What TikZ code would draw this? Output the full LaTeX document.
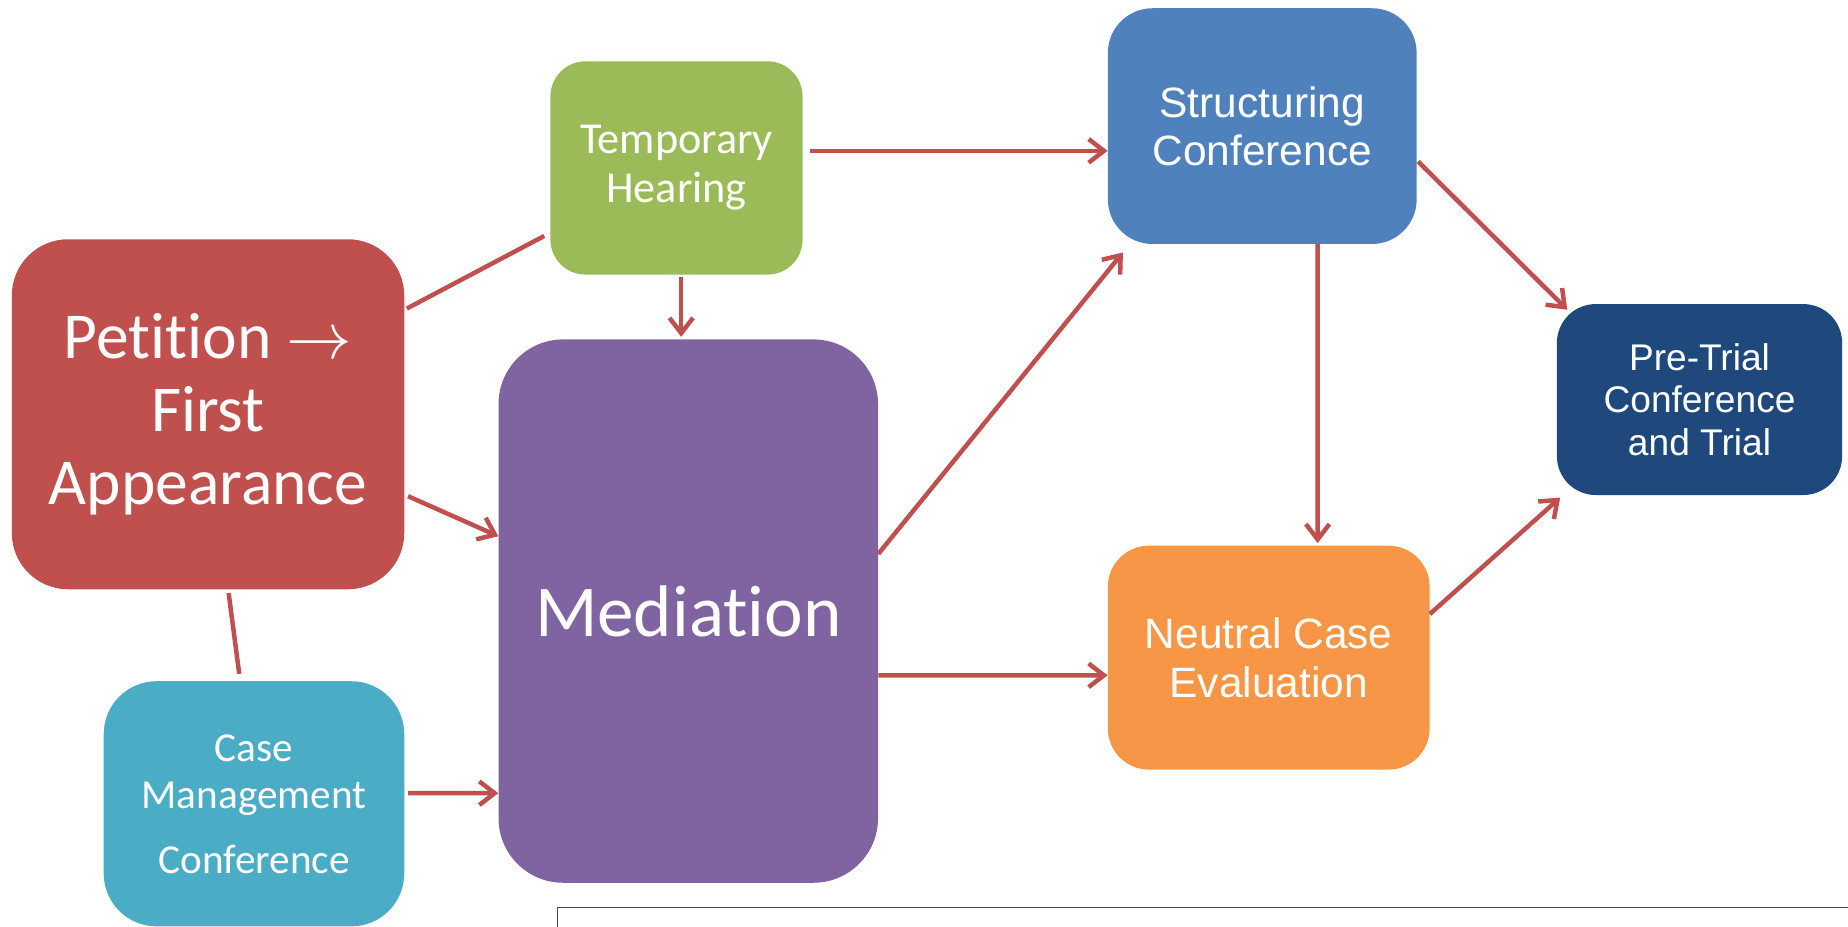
\RequirePackage{fix-cm}
\documentclass[tikz,border=0pt]{standalone}
\usepackage{fontspec}
\setmainfont{Carlito}[Ligatures=NoCommon]
\newfontfamily\arialfont{Liberation Sans}
\usetikzlibrary{arrows.meta,calc}
\definecolor{linkred}{HTML}{C0504D}
\definecolor{petred}{HTML}{C0504D}
\definecolor{tempgreen}{HTML}{9BBB59}
\definecolor{medpurple}{HTML}{8064A2}
\definecolor{cmccyan}{HTML}{4BACC6}
\definecolor{structblue}{HTML}{4F81BD}
\definecolor{predarkblue}{HTML}{1F497D}
\definecolor{nceorange}{HTML}{F79646}
\definecolor{framegray}{HTML}{4A4A4A}
\begin{document}
\begin{tikzpicture}[x=1bp,y=-1bp,
  box/.style={rectangle, rounded corners=#1, text=white, align=center, inner sep=0pt},
  conn/.style={draw=linkred, line width=3.8bp},
  arr/.style={conn, -{Straight Barb[length=13bp,width=20bp]}}]
\clip (0,0) rectangle (1568,786);
\fill[white] (0,0) rectangle (1568,786);

% boxes
\node[box=48, fill=petred, minimum width=333bp, minimum height=297bp,
      font=\fontsize{55.6bp}{62.3bp}\selectfont]
  (pet) at (176.5,351.5) {Petition $\rightarrow$\\First\\Appearance};
\node[box=30, fill=tempgreen, minimum width=214bp, minimum height=181bp,
      font=\fontsize{37.5bp}{41.6bp}\selectfont]
  (temp) at (574,142.5) {Temporary\\Hearing};
\node[box=55, fill=medpurple, minimum width=322bp, minimum height=461bp,
      font=\fontsize{62bp}{70bp}\selectfont]
  (med) at (584,518.5) {Mediation};
\node[box=45, fill=cmccyan, minimum width=255bp, minimum height=208bp,
      font=\fontsize{35bp}{40bp}\selectfont]
  (cmc) at (215.5,682) {Case\\Management\\[15bp]Conference};
\node[box=38, fill=structblue, minimum width=262bp, minimum height=200bp,
      font=\fontsize{36bp}{41bp}\arialfont\selectfont]
  (struct) at (1071,107) {Structuring\\Conference};
\node[box=33, fill=predarkblue, minimum width=242bp, minimum height=162bp,
      font=\fontsize{31.5bp}{36bp}\arialfont\selectfont]
  (pre) at (1442,339) {Pre-Trial\\Conference\\and Trial};
\node[box=35, fill=nceorange, minimum width=273bp, minimum height=190bp,
      font=\fontsize{36bp}{41.5bp}\arialfont\selectfont]
  (nce) at (1076.5,558) {Neutral Case\\Evaluation};

% frame at the bottom
\draw[framegray, line width=1.3bp] (473,800) -- (473,770) -- (1600,770);

% connectors
\draw[conn] ($(pet.north east)+(2,59)$) -- ($(temp.south west)+(-5,-33)$);
\draw[arr]  ($(pet.east)+(3,69.5)$) -- ($(med.west)+(0,-63.5)$);
\draw[conn] ($(pet.south)+(17.5,3)$) -- ($(cmc.north)+(-12.5,-6)$);
\draw[arr]  ($(cmc.east)+(3,-9)$) -- ($(med.west)+(0,154.5)$);
\draw[arr]  ($(temp.south)+(4,2)$) -- ($(med.north)+(-6,-2)$);
\draw[arr]  ($(temp.east)+(6,-14.5)$) -- ($(struct.west)+(0,21)$);
\draw[arr]  ($(med.east)+(0,-48.5)$) -- ($(struct.south west)+(13,7)$);
\draw[arr]  ($(med.east)+(0,54.5)$) -- ($(nce.west)+(0,15)$);
\draw[arr]  ($(struct.south)+(47,0)$) -- ($(nce.north)+(41.5,-2)$);
\draw[arr]  ($(struct.east)+(1,30)$) -- ($(pre.north west)+(9,5)$);
\draw[arr]  ($(nce.east)+(0,-37)$) -- ($(pre.south west)+(3,2)$);
\end{tikzpicture}
\end{document}
